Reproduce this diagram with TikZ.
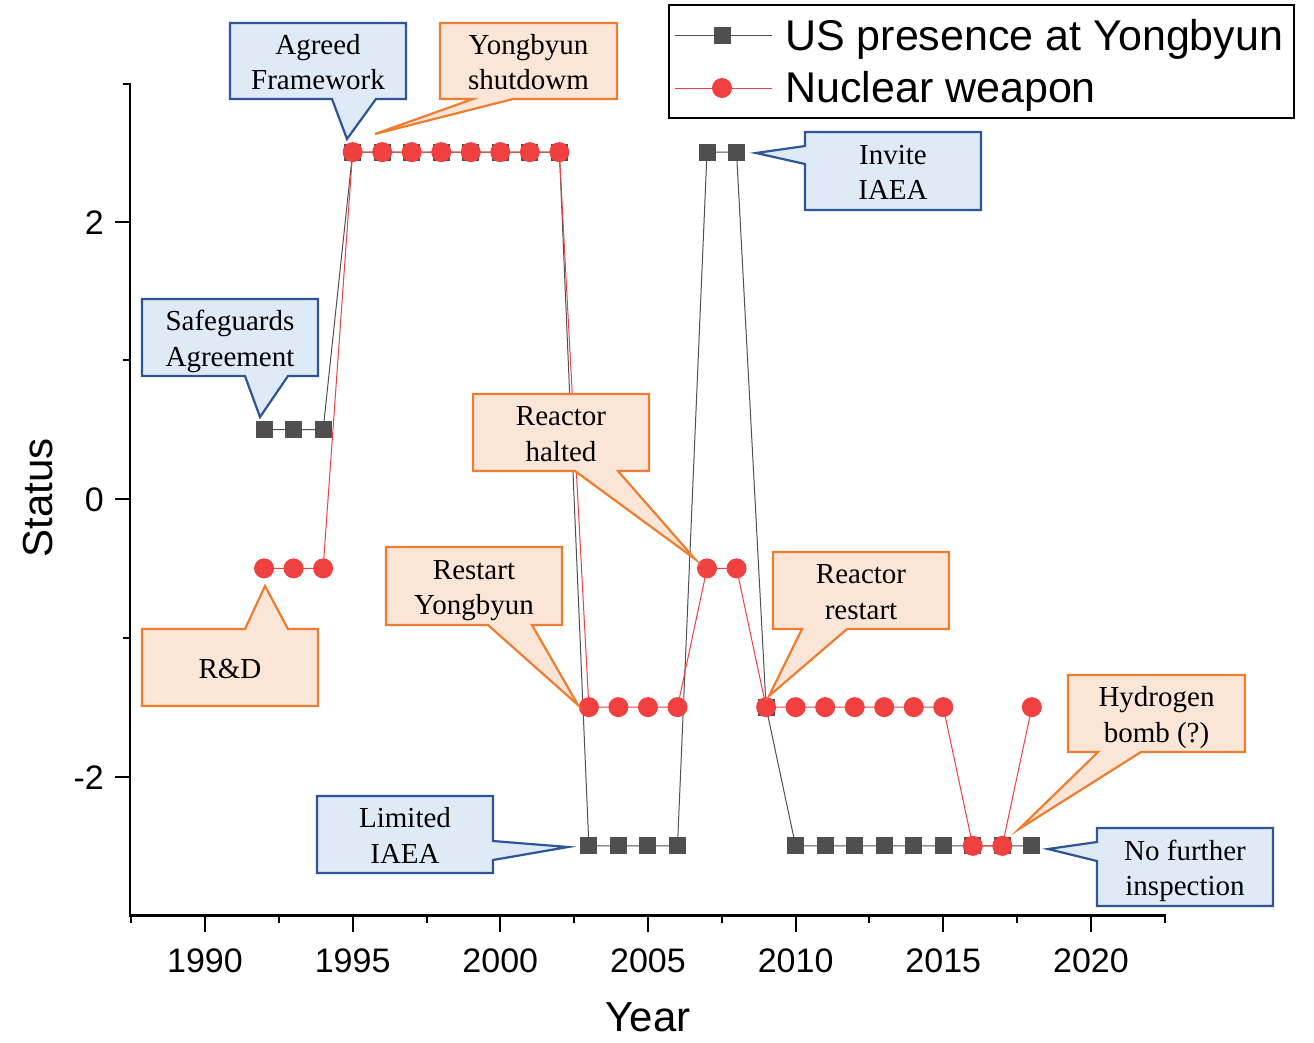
\documentclass[tikz,border=0pt]{standalone}
\usepackage{fontspec}
\setmainfont{Liberation Serif}
\newfontfamily\sansf{Liberation Sans}
\definecolor{bfill}{HTML}{DEEBF7}
\definecolor{bline}{HTML}{2F5597}
\definecolor{ofill}{HTML}{FBE5D6}
\definecolor{oline}{HTML}{ED7D31}
\definecolor{sqcol}{HTML}{4F4F4F}
\definecolor{rdcol}{HTML}{F04040}
\definecolor{ulcol}{HTML}{505050}
\begin{document}
\begin{tikzpicture}[x=1pt,y=-1pt,
  bcall/.style={draw=bline, fill=bfill, line width=2.2pt},
  ocall/.style={draw=oline, fill=ofill, line width=2.2pt},
  ctext/.style={font=\fontsize{29}{35.5}\selectfont, align=center, inner sep=0pt, yshift=-4pt},
  tlab/.style={font=\sansf\fontsize{34}{40}\selectfont, inner sep=0pt},
  sqm/.style={rectangle, fill=sqcol, minimum size=17pt, inner sep=0pt},
  rdm/.style={circle, fill=rdcol, minimum size=20pt, inner sep=0pt},
  uline/.style={draw=ulcol, line width=1pt},
  rline/.style={draw=rdcol, line width=1pt},
  axl/.style={line width=2.2pt, line cap=rect},
  tk/.style={line width=2pt}
]
\useasboundingbox[fill=white] (0,0) rectangle (1314,1042);

% ---------- axes ----------
\draw[axl] (130,84) -- (130,915);
\draw[line width=3pt] (129,915) -- (1166,915);
\foreach \yy in {222,499,777} \draw[tk] (115,\yy) -- (130,\yy);
\foreach \yy in {84,360.25,637.75} \draw[tk] (123,\yy) -- (130,\yy);
\foreach \k in {0,...,6} {
  \pgfmathsetmacro\xx{205+\k*147.65}
  \pgfmathtruncatemacro\lab{1990+5*\k}
  \draw[tk] (\xx,915) -- (\xx,932);
  \node[tlab, anchor=base] (xl\k) at (\xx,972) {\lab};
}
\foreach \k in {0,...,7} {
  \pgfmathsetmacro\xx{131.2+\k*147.65}
  \draw[tk] (\xx,915) -- (\xx,923);
}
\node[tlab, anchor=base east] (y2) at (104,234) {2};
\node[tlab, anchor=base east] (y0) at (104,511) {0};
\node[tlab, anchor=base east] (ym2) at (104,789) {-2};
\node[font=\sansf\fontsize{42}{48}\selectfont, rotate=90, inner sep=0pt] (ylab) at (38,498) {Status};
\node[font=\sansf\fontsize{42}{48}\selectfont, anchor=base, inner sep=0pt] (xlab) at (648,1031) {Year};

% ---------- data ----------
\begin{scope}[shift={(205,499)}, x=29.53pt, y=138.75pt]
  \foreach \yr/\v in {1992/0.5,1993/0.5,1994/0.5,1995/2.5,1996/2.5,1997/2.5,1998/2.5,1999/2.5,
      2000/2.5,2001/2.5,2002/2.5,2003/-2.5,2004/-2.5,2005/-2.5,2006/-2.5,2007/2.5,2008/2.5,
      2009/-1.5,2010/-2.5,2011/-2.5,2012/-2.5,2013/-2.5,2014/-2.5,2015/-2.5,2016/-2.5,
      2017/-2.5,2018/-2.5}
    \coordinate (u\yr) at (\yr-1990,\v);
  \foreach \yr/\v in {1992/-0.5,1993/-0.5,1994/-0.5,1995/2.5,1996/2.5,1997/2.5,1998/2.5,1999/2.5,
      2000/2.5,2001/2.5,2002/2.5,2003/-1.5,2004/-1.5,2005/-1.5,2006/-1.5,2007/-0.5,2008/-0.5,
      2009/-1.5,2010/-1.5,2011/-1.5,2012/-1.5,2013/-1.5,2014/-1.5,2015/-1.5,2016/-2.5,
      2017/-2.5,2018/-1.5}
    \coordinate (n\yr) at (\yr-1990,\v);
\end{scope}
\draw[uline] (u1992) \foreach \yr in {1993,...,2018} { -- (u\yr) };
\foreach \yr in {1992,...,2018} \node[sqm] (us\yr) at (u\yr) {};
\draw[rline] (n1992) \foreach \yr in {1993,...,2018} { -- (n\yr) };
\foreach \yr in {1992,...,2018} \node[rdm] (nc\yr) at (n\yr) {};

% ---------- legend ----------
\draw[line width=1.3pt] (669,5) rectangle (1294,118);
\draw[uline] (675,35) -- (772,35);
\node[sqm] (lsq) at (722,35) {};
\draw[rline] (675,88) -- (772,88);
\node[rdm] (lrd) at (722,88) {};
\node[font=\sansf\fontsize{43}{50}\selectfont, anchor=base west, inner sep=0pt] (leg1) at (785,50) {US presence at Yongbyun};
\node[font=\sansf\fontsize{43}{50}\selectfont, anchor=base west, inner sep=0pt] (leg2) at (785,102) {Nuclear weapon};

% ---------- callouts ----------
% Agreed Framework
\draw[bcall] (230,23) -- (406,23) -- (406,99) -- (376,99) -- (347,139) -- (332,99) -- (230,99) -- cycle;
\node[ctext] (agreed) at (318,61) {Agreed\strut\\Framework\strut};
% Yongbyun shutdown
\draw[ocall] (440,23) -- (617,23) -- (617,99) -- (513,99) -- (375,134) -- (473,99) -- (440,99) -- cycle;
\node[ctext] (shutdown) at (528.5,61) {Yongbyun\strut\\shutdowm\strut};
% Safeguards Agreement
\draw[bcall] (142,299) -- (318,299) -- (318,376) -- (288,376) -- (260,417) -- (245,376) -- (142,376) -- cycle;
\node[ctext] (safeg) at (230,337.5) {Safeguards\strut\\Agreement\strut};
% R&D
\draw[ocall] (142,629) -- (245,629) -- (265,586) -- (288,629) -- (318,629) -- (318,706) -- (142,706) -- cycle;
\node[ctext] (rnd) at (230,667.5) {R\&D\strut};
% Reactor halted
\draw[ocall] (473,394) -- (649,394) -- (649,471) -- (618,471) -- (695,559) -- (575,471) -- (473,471) -- cycle;
\node[ctext] (halted) at (561,432.5) {Reactor\strut\\halted\strut};
% Restart Yongbyun
\draw[ocall] (386,547) -- (562,547) -- (562,625) -- (532,625) -- (578,705) -- (488,625) -- (386,625) -- cycle;
\node[ctext] (restart) at (474,586) {Restart\strut\\Yongbyun\strut};
% Reactor restart
\draw[ocall] (773,552) -- (949,552) -- (949,629) -- (847,629) -- (769,696) -- (802,629) -- (773,629) -- cycle;
\node[ctext] (rrestart) at (861,590.5) {Reactor\strut\\restart\strut};
% Hydrogen bomb
\draw[ocall] (1068,675) -- (1245,675) -- (1245,752) -- (1141,752) -- (1019,829) -- (1098,752) -- (1068,752) -- cycle;
\node[ctext] (hbomb) at (1156.5,713.5) {Hydrogen\strut\\bomb (?)\strut};
% Invite IAEA
\draw[bcall] (805,132) -- (981,132) -- (981,210) -- (805,210) -- (805,164) -- (756,153) -- (805,146) -- cycle;
\node[ctext] (invite) at (893,171) {Invite\strut\\IAEA\strut};
% Limited IAEA
\draw[bcall] (317,796) -- (493,796) -- (493,841) -- (568,847) -- (493,860) -- (493,873) -- (317,873) -- cycle;
\node[ctext] (limited) at (405,834.5) {Limited\strut\\IAEA\strut};
% No further inspection
\draw[bcall] (1097,828) -- (1273,828) -- (1273,906) -- (1097,906) -- (1097,861) -- (1048,849) -- (1097,842) -- cycle;
\node[ctext] (nofurther) at (1185,867) {No further\strut\\inspection\strut};
\end{tikzpicture}
\end{document}
